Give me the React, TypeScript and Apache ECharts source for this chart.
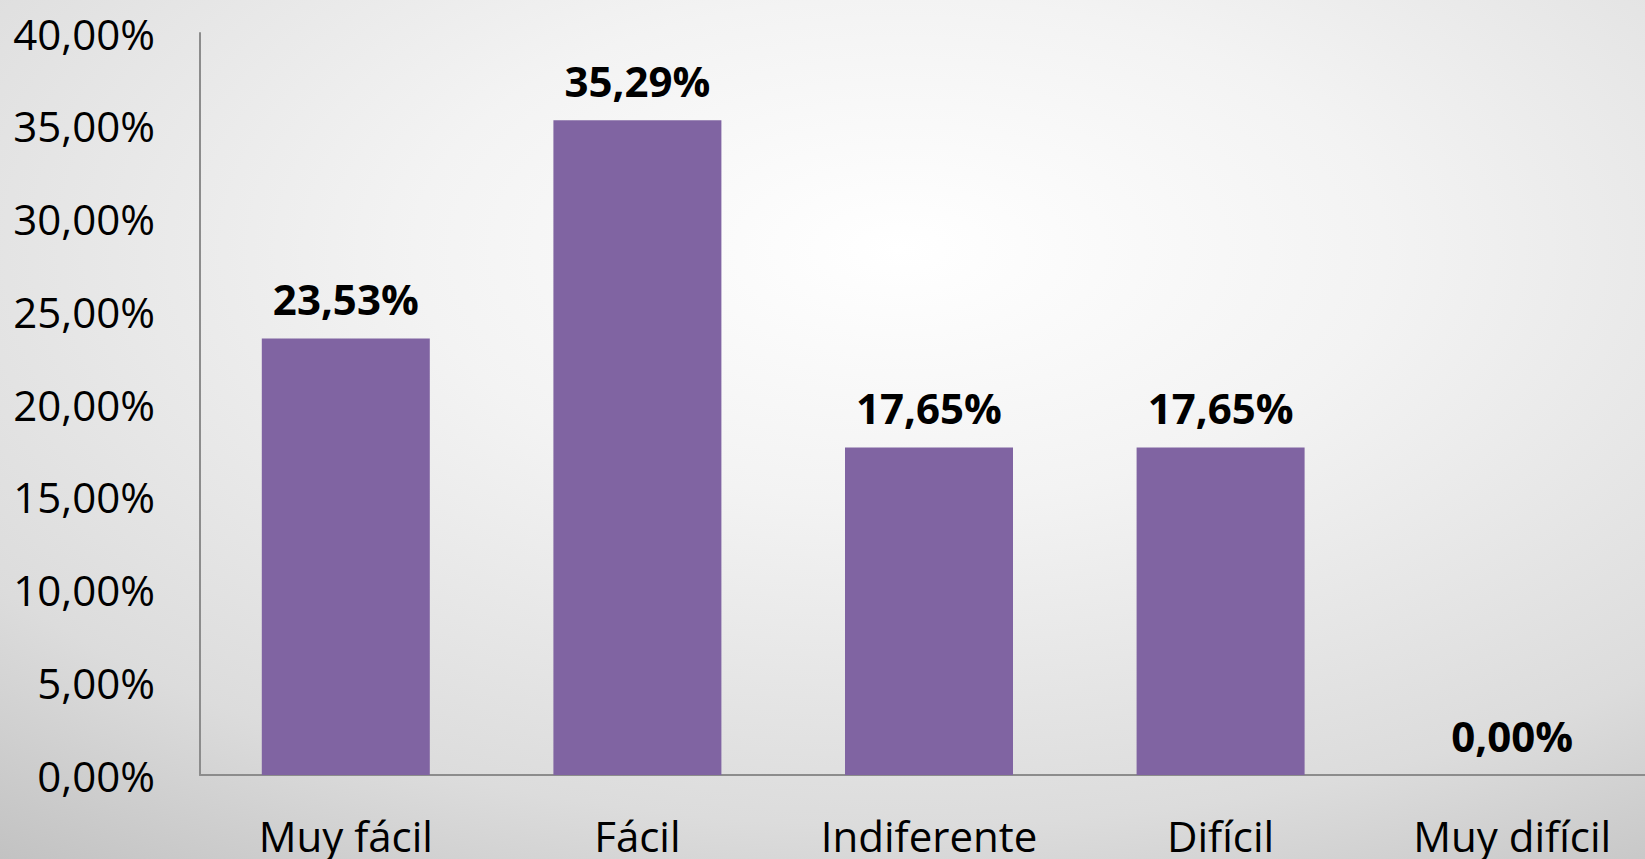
import React, { useEffect, useRef } from "react";
import * as echarts from "echarts";

const categories = ["Muy fácil", "Fácil", "Indiferente", "Difícil", "Muy difícil"];
const values = [23.53, 35.29, 17.65, 17.65, 0];

const fmt = (v: number) => v.toFixed(2).replace(".", ",") + "%";

export default function App() {
  const ref = useRef<HTMLDivElement>(null);
  useEffect(() => {
    document.body.style.margin = "0";
    const chart = echarts.init(ref.current!, undefined, { renderer: "svg" });
    chart.setOption({
      animation: false,
      backgroundColor: {
        type: "radial",
        x: 0.543,
        y: 0.29,
        r: 1.22,
        colorStops: [
          { offset: 0, color: "#ffffff" },
          { offset: 0.24, color: "#f3f3f3" },
          { offset: 0.55, color: "#dcdcdc" },
          { offset: 0.86, color: "#b0b0b0" },
          { offset: 1, color: "#a6a6a6" },
        ],
      },
      grid: { left: 200, right: 0, top: 33, bottom: 84, containLabel: false },
      xAxis: {
        type: "category",
        data: categories,
        axisLine: { show: true, lineStyle: { color: "#8c8c8c", width: 2 } },
        axisTick: { show: false },
        axisLabel: {
          color: "#000",
          fontFamily: "Open Sans",
          fontSize: 42,
          margin: 39,
          interval: 0,
        },
      },
      yAxis: {
        type: "value",
        min: 0,
        max: 40,
        interval: 5,
        axisLine: { show: true, lineStyle: { color: "#8c8c8c", width: 2 } },
        axisTick: { show: false },
        splitLine: { show: false },
        axisLabel: {
          color: "#000",
          fontFamily: "Open Sans",
          fontSize: 42,
          margin: 45,
          formatter: (v: number) => fmt(v),
        },
      },
      series: [
        {
          type: "bar",
          data: values,
          barWidth: 168,
          itemStyle: { color: "#8064a2" },
          label: {
            show: true,
            position: "top",
            distance: 19,
            color: "#000",
            fontFamily: "Open Sans",
            fontWeight: "bold",
            fontSize: 42,
            formatter: (p: any) => fmt(p.value),
          },
        },
      ],
    });
    return () => chart.dispose();
  }, []);
  return (
    <div style={{ width: 1645, height: 859, overflow: "hidden" }}>
      <div ref={ref} style={{ width: 1658, height: 859 }} />
    </div>
  );
}
